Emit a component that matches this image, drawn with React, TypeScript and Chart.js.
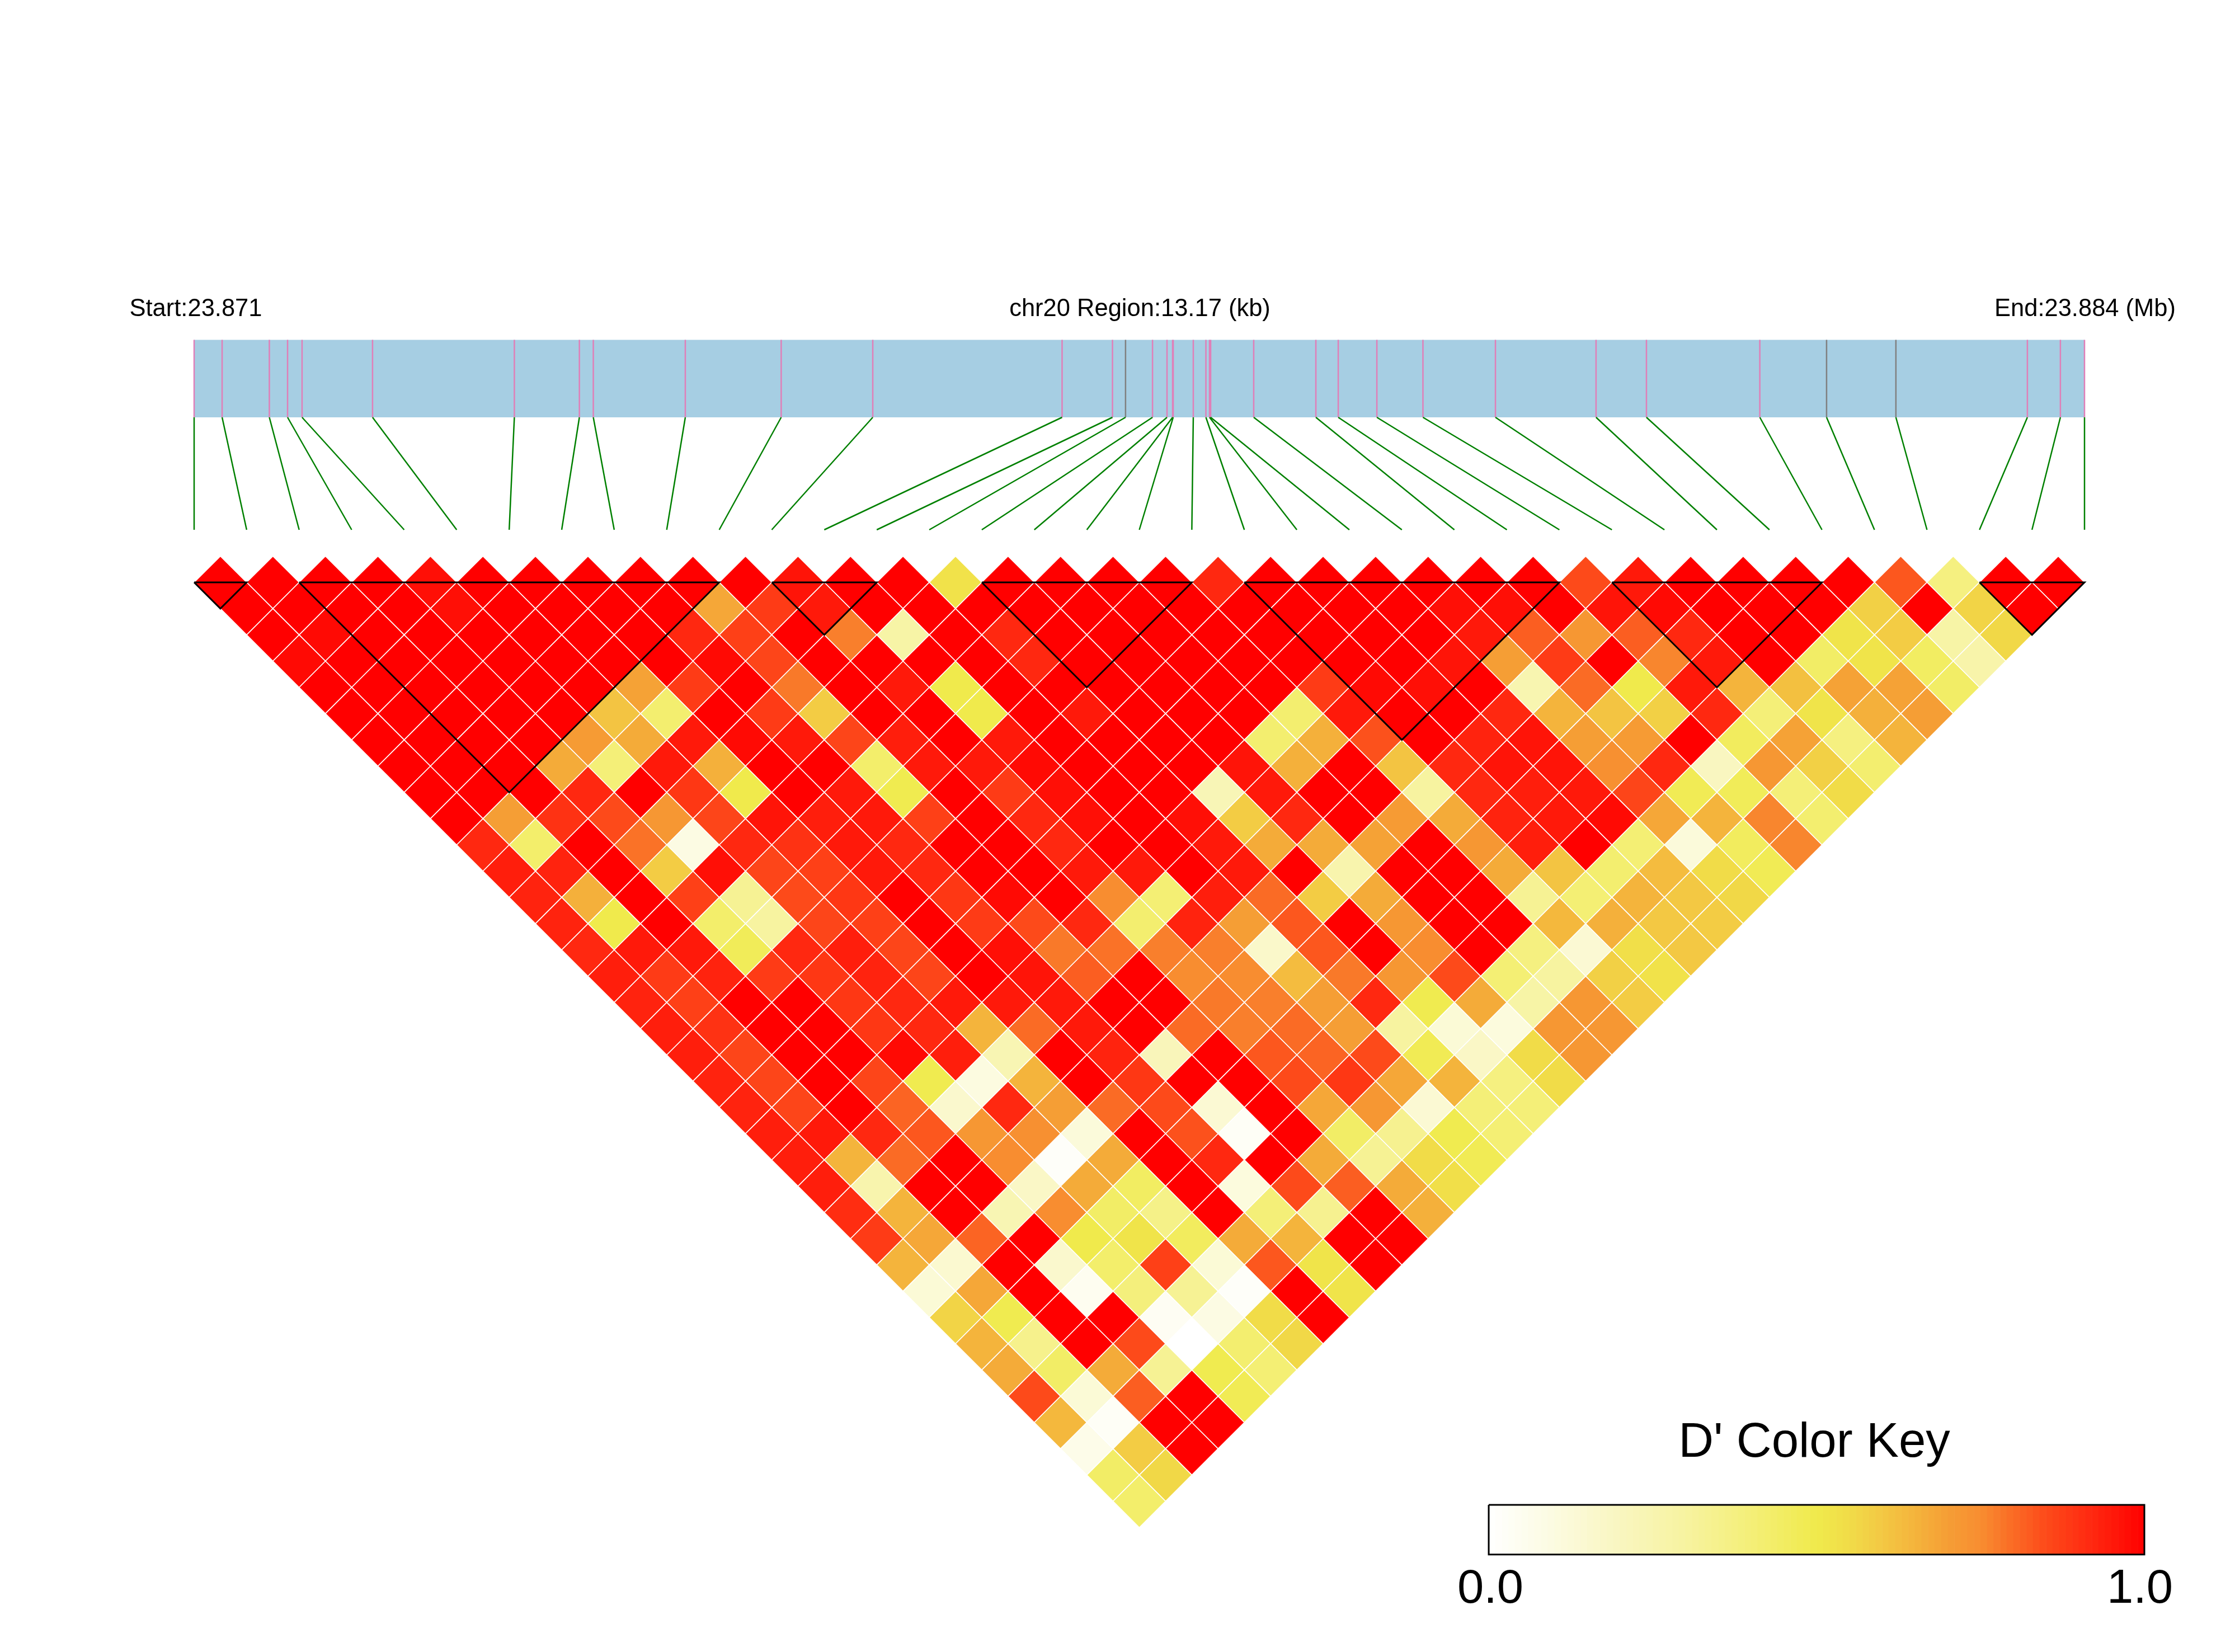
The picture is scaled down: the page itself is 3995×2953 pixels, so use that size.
import React, { useEffect, useRef } from "react";
import { Chart, registerables } from "chart.js";

Chart.register(...registerables);

// ---------- data ----------
const regionKb = 13.17;
const startLabel = "Start:23.871";
const regionLabel = "chr20 Region:13.17 (kb)";
const endLabel = "End:23.884 (Mb)";
const keyTitle = "D' Color Key";
const keyTicks = ["0.0", "1.0"];

// physical SNP positions, kb from the region start
const snpKb = [
  0, 0.195, 0.524, 0.651, 0.752, 1.243, 2.231, 2.684, 2.781, 3.422, 4.09, 4.728, 6.047,
  6.398, 6.489, 6.677, 6.778, 6.817, 6.821, 6.961, 7.049, 7.074, 7.082, 7.382, 7.815,
  7.971, 8.24, 8.561, 9.066, 9.767, 10.118, 10.908, 11.373, 11.856, 12.772, 13.002, 13.17,
];
// SNP markers drawn in grey rather than pink (0-based)
const greySnps = [14, 32, 33];
// LD blocks: first and last SNP index
const ldBlocks = [[0, 1], [2, 10], [11, 13], [15, 19], [20, 26], [27, 31], [34, 36]];

// D' by separation: row r holds pairs (p, p + r + 1)
const sep01 = [1,1,1,1,.97,1,1,1,1,1,1,.96,1,1,.53,1,1,1,1,.92,1,1,1,1,1,1,.85,.95,1,1,1,1,.83,.38,1,1];
const sep02 = [1,1,1,1,.97,1,1,1,1,.68,.88,.95,1,1,1,1,1,1,1,1,1,1,1,.97,.97,1,.96,.98,1,1,1,.58,1,.57,1];
const sep03 = [1,.98,1,1,1,1,1,1,.92,.87,1,.77,.28,1,.92,1,1,1,1,1,1,1,1,.95,.82,.72,.82,.92,1,1,.52,.59,.28,.56];
const sep04 = [.98,1,1,1,1,1,1,1,.98,.86,1,1,1,1,.92,1,1,1,1,1,1,1,.96,.7,.88,1,.76,.95,1,.44,.52,.45,.27];
const sep05 = [1,1,1,1,1,1,.69,.88,1,.78,1,.95,.5,1,1,1,1,1,1,.88,.98,.97,1,.25,.8,.5,.95,.65,.62,.69,.69,.44];
const sep06 = [1,1,1,1,1,.61,.42,1,.88,.59,1,1,.5,1,.95,1,1,1,.42,.95,1,1,.92,.65,.61,.58,.92,.4,.52,.66,.7];
const sep07 = [1,1,1,1,.71,.67,.95,.98,.95,.86,.94,1,.95,1,1,1,1,.42,.66,.84,1,.93,.96,.7,.71,1,.46,.69,.38,.65];
const sep08 = [1,1,1,.67,.4,.95,.66,1,1,.43,.95,.95,.98,1,1,1,.96,.66,1,.61,.92,.96,.96,.74,.92,.2,.72,.58,.42];
const sep09 = [1,1,1,.92,1,.89,.5,1,.95,.49,1,.88,.97,1,1,.23,.95,1,1,.3,.92,.94,.95,.86,.48,.47,.4,.55];
const sep10 = [1,.7,.9,.85,.72,.86,.96,.94,.95,.87,1,.92,.97,1,.97,.59,.92,1,.71,.67,.93,.95,.98,.68,.65,.76,.42];
const sep11 = [.92,.43,1,.79,.09,.92,.9,.95,.92,1,1,.92,1,1,.95,.67,.67,.69,1,.72,.94,1,.41,.12,.46,.76];
const sep12 = [.94,.93,1,.59,.97,.86,.87,.95,.92,1,1,.95,.95,1,.95,1,.26,1,1,.67,.61,.42,.63,.55,.48];
const sep13 = [.93,.66,1,.87,.33,.85,.89,1,.89,.98,1,.75,.41,.94,.8,.59,.67,1,1,.33,.41,.65,.6,.56];
const sep14 = [.93,.5,1,.43,.3,.86,.87,1,.88,.85,.92,.42,.93,.7,.83,1,.72,1,1,.64,.66,.6,.59];
const sep15 = [.92,.95,.95,.47,.92,.94,.86,1,.97,.78,.79,.77,.77,.17,.83,1,.75,1,.38,.14,.54,.6];
const sep16 = [.94,.88,.93,.88,.89,.93,.86,1,.96,.82,1,.75,.75,.63,.78,.72,.85,.41,.3,.58,.53];
const sep17 = [.93,.87,1,1,.89,.92,.95,.95,.95,1,1,.78,.77,.7,.92,.49,.67,.28,.72,.59];
const sep18 = [.94,.9,1,1,.89,.92,.65,.8,.95,1,.8,.77,.8,.7,.3,.13,.11,.72,.72];
const sep19 = [.94,.86,1,1,.98,.94,.24,1,.93,.22,1,.83,.81,.85,.48,.18,.55,.72];
const sep20 = [.93,.86,1,.86,.49,.1,.65,1,.89,1,1,.85,.89,.68,.65,.38,.55];
const sep21 = [.93,.86,1,.81,.16,.92,.7,.8,.85,.14,1,.68,.72,.14,.4,.4];
const sep22 = [.94,.95,.92,.83,.72,.74,.12,1,.84,.03,1,.44,.34,.49,.41];
const sep23 = [.94,.65,.8,1,.75,.02,.67,1,.92,1,.67,.33,.55,.48];
const sep24 = [.94,.26,1,1,.18,.67,.45,1,.11,.85,.82,.67,.54];
const sep25 = [.91,.65,1,.24,.75,.44,.36,1,.4,.34,1,.66];
const sep26 = [.88,.68,.81,1,.5,.52,.46,.67,.65,1,1];
const sep27 = [.65,.15,1,.16,.43,.87,.13,.83,.52,1];
const sep28 = [.13,.68,1,.05,.39,.33,.02,1,.52];
const sep29 = [.57,.49,1,1,.04,.09,.55,1];
const sep30 = [.65,.35,1,.85,0,.42,.56];
const sep31 = [.67,.44,.67,.33,.49,.41];
const sep32 = [.85,.13,.82,1,.48];
const sep33 = [.64,.03,1,1];
const sep34 = [.07,.59,1];
const sep35 = [.44,.56];
const sep36 = [.43];

const dPrimeRows = [
  sep01, sep02, sep03, sep04, sep05, sep06, sep07, sep08, sep09, sep10, sep11, sep12,
  sep13, sep14, sep15, sep16, sep17, sep18, sep19, sep20, sep21, sep22, sep23, sep24,
  sep25, sep26, sep27, sep28, sep29, sep30, sep31, sep32, sep33, sep34, sep35, sep36,
];

// colour ramp of the key
const rampStops: [number, string][] = [
  [0, "#FFFFFF"], [0.1, "#FCFBE0"], [0.2, "#F9F6C0"], [0.3, "#F7F3A0"], [0.4, "#F4EF78"],
  [0.5, "#F0EA4C"], [0.55, "#F1DC48"], [0.6, "#F3C843"], [0.65, "#F4B43C"], [0.7, "#F59E35"],
  [0.75, "#F88D30"], [0.8, "#FA6B25"], [0.85, "#FD4A1A"], [0.92, "#FF2810"], [1, "#FF0000"],
];

// ---------- layout ----------
const W = 3995;
const H = 2953;
const LEFT = 347;
const UNIT_X = 93.861; // px per SNP index
const TOP = 1041;
const UNIT_Y = 46.93; // px per unit of depth
const CELL_R = 46.93;

const geneTop = -9.237;
const geneBottom = -6.286;
const connectorBottom = -2.003;
const keyLeft = 24.654;
const keyRight = 37.14;
const keyTopD = 35.14;
const keyBottomD = 37.03;

function hexToRgb(h: string) {
  return [1, 3, 5].map((i) => parseInt(h.slice(i, i + 2), 16));
}
function ramp(v: number) {
  for (let i = 1; i < rampStops.length; i++) {
    const [b, cb] = rampStops[i];
    if (v <= b) {
      const [a, ca] = rampStops[i - 1];
      const t = (v - a) / (b - a);
      const A = hexToRgb(ca);
      const B = hexToRgb(cb);
      return `rgb(${A.map((c, k) => Math.round(c + (B[k] - c) * t)).join(",")})`;
    }
  }
  return rampStops[rampStops.length - 1][1];
}

const nIntervals = snpKb.length - 1;
const kbToIndex = (kb: number) => (kb / regionKb) * nIntervals;

function segments(list: number[][]) {
  // list of [x1,y1,x2,y2] -> points with gaps
  const out: { x: number; y: number }[] = [];
  list.forEach(([a, b, c, d]) => {
    out.push({ x: a, y: b }, { x: c, y: d }, { x: c, y: NaN });
  });
  return out;
}

const cellPoints: { x: number; y: number }[] = [];
const cellColors: string[] = [];
dPrimeRows.forEach((row, r) => {
  row.forEach((v, p) => {
    cellPoints.push({ x: p + (r + 1) / 2, y: r });
    cellColors.push(ramp(v));
  });
});

const pinkSnps = snpKb.map((_, i) => i).filter((i) => !greySnps.includes(i));
const markerSeg = (i: number) => [kbToIndex(snpKb[i]), geneTop, kbToIndex(snpKb[i]), geneBottom];

const blockPoints: { x: number; y: number }[] = [];
ldBlocks.forEach(([a, b]) => {
  blockPoints.push(
    { x: a, y: 0 },
    { x: b, y: 0 },
    { x: (a + b) / 2, y: b - a },
    { x: a, y: 0 },
    { x: a, y: NaN }
  );
});

const textPlugin = {
  id: "labelsAndKey",
  beforeDatasetsDraw(chart: any) {
    const { ctx, scales } = chart;
    const xs = scales.x;
    const ys = scales.y;
    const bins = 100;
    const x0 = xs.getPixelForValue(keyLeft);
    const x1 = xs.getPixelForValue(keyRight);
    const y0 = ys.getPixelForValue(keyTopD);
    const y1 = ys.getPixelForValue(keyBottomD);
    for (let i = 0; i < bins; i++) {
      ctx.fillStyle = ramp((i + 0.5) / bins);
      const a = x0 + ((x1 - x0) * i) / bins;
      const b = x0 + ((x1 - x0) * (i + 1)) / bins;
      ctx.fillRect(a, y0, b - a + 0.6, y1 - y0);
    }
  },
  afterDatasetsDraw(chart: any) {
    const { ctx, scales } = chart;
    const xs = scales.x;
    ctx.save();
    ctx.fillStyle = "#000";
    ctx.textAlign = "center";
    ctx.textBaseline = "alphabetic";
    ctx.font = '43.5px "Liberation Sans"';
    ctx.fillText(startLabel, xs.getPixelForValue(0) + 3, 565);
    ctx.fillText(regionLabel, xs.getPixelForValue(nIntervals / 2) + 1, 565);
    ctx.fillText(endLabel, xs.getPixelForValue(nIntervals) + 1, 565);
    ctx.font = '87px "Liberation Sans"';
    ctx.fillText(keyTitle, 3243, 2604);
    ctx.font = '85px "Liberation Sans"';
    ctx.fillText(keyTicks[0], xs.getPixelForValue(keyLeft) + 3, 2865);
    ctx.fillText(keyTicks[1], xs.getPixelForValue(keyRight) - 8, 2865);
    ctx.restore();
  },
};

export default function App() {
  const ref = useRef<HTMLCanvasElement | null>(null);
  useEffect(() => {
    if (!ref.current) return;
    const lineBase = { showLine: true, pointRadius: 0, pointHoverRadius: 0, spanGaps: false, tension: 0 };
    const chart = new Chart(ref.current, {
      type: "scatter",
      data: {
        datasets: [
          {
            label: "gene region",
            data: [{ x: 0, y: geneTop }, { x: nIntervals, y: geneTop }],
            ...lineBase,
            borderWidth: 0,
            borderColor: "#A6CEE3",
            backgroundColor: "#A6CEE3",
            fill: { value: geneBottom },
            order: 10,
          },
          {
            label: "markers",
            data: segments(pinkSnps.map(markerSeg)),
            ...lineBase,
            borderColor: "#E07FB8",
            borderWidth: 2.5,
            order: 9,
          },
          {
            label: "grey markers",
            data: segments(greySnps.map(markerSeg)),
            ...lineBase,
            borderColor: "#808080",
            borderWidth: 2.5,
            order: 9,
          },
          {
            label: "connectors",
            data: segments(snpKb.map((kb, i) => [kbToIndex(kb), geneBottom, i, connectorBottom])),
            ...lineBase,
            borderColor: "#008000",
            borderWidth: 2.5,
            order: 8,
          },
          {
            label: "D'",
            data: cellPoints,
            showLine: false,
            pointStyle: "rectRot",
            pointRadius: CELL_R,
            pointHoverRadius: CELL_R,
            pointBackgroundColor: cellColors,
            pointBorderColor: "#FFFFFF",
            pointBorderWidth: 1.6,
            order: 5,
          },
          {
            label: "LD blocks",
            data: blockPoints,
            ...lineBase,
            borderColor: "#000000",
            borderWidth: 3,
            order: 2,
          },
          {
            label: "key frame",
            data: [
              { x: keyLeft, y: keyTopD },
              { x: keyRight, y: keyTopD },
              { x: keyRight, y: keyBottomD },
              { x: keyLeft, y: keyBottomD },
              { x: keyLeft, y: keyTopD },
            ],
            ...lineBase,
            borderColor: "#000000",
            borderWidth: 3,
            order: 1,
          },
        ],
      } as any,
      options: {
        animation: false,
        responsive: false,
        maintainAspectRatio: false,
        layout: { padding: 0, autoPadding: false },
        events: [],
        plugins: { legend: { display: false }, tooltip: { enabled: false } },
        scales: {
          x: { type: "linear", display: false, min: -LEFT / UNIT_X, max: (W - LEFT) / UNIT_X },
          y: { type: "linear", display: false, reverse: true, min: -TOP / UNIT_Y, max: (H - TOP) / UNIT_Y },
        },
      } as any,
      plugins: [textPlugin],
    });
    return () => chart.destroy();
  }, []);
  return (
    <canvas
      ref={ref}
      width={W}
      height={H}
      style={{ position: "absolute", left: 0, top: 0, width: W, height: H, display: "block" }}
    />
  );
}
